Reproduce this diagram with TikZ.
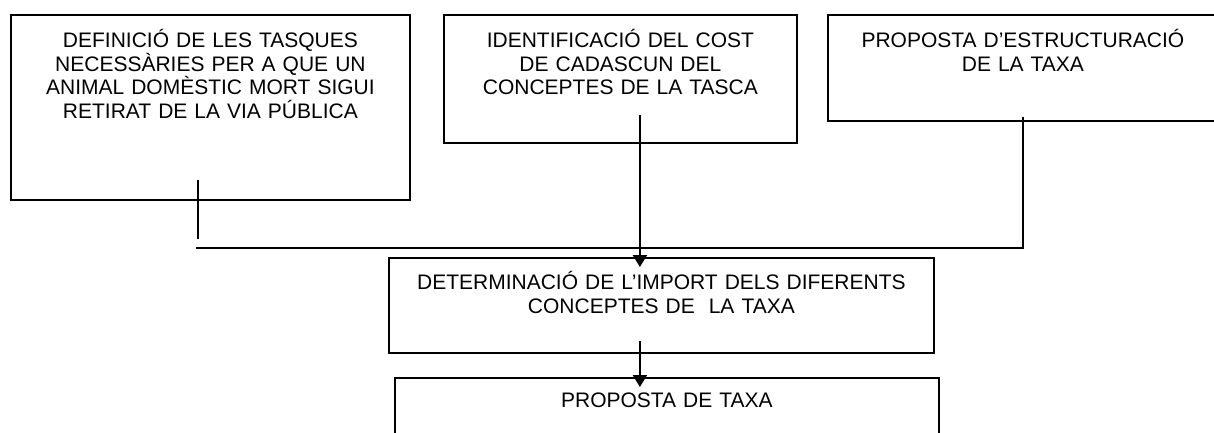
\documentclass[tikz,border=0pt]{standalone}
\usepackage{fontspec}
\setmainfont{Liberation Sans}
\usepackage{tikz}
\usetikzlibrary{
  arrows.meta
}

\begin{document}
\begin{tikzpicture}[%詳細設定
        x=0.5pt,y=-0.5pt,
        taskbox/.style={
            draw,
            line width=0.9pt,
            inner sep=0pt,
            anchor=north west,
            align=center,
            font=\fontsize{10.5pt}{11.75pt}\selectfont,
            text height=16.5pt
          },conn/.style={
            line width=0.8pt
          },arrowline/.style={
            line width=1.1pt,
            -{Triangle[length=6pt,width=7pt]}
          }
      ]
      \useasboundingbox (0,0) rectangle (1214,433);

      % 上の箱
      \node[taskbox,text width=199.5pt,text depth=76pt] (definicio) at (10,14)
        {DEFINICIÓ DE LES TASQUES\\NECESSÀRIES PER A QUE UN\\ANIMAL DOMÈSTIC MORT SIGUI\\RETIRAT DE LA VIA PÚBLICA};
      \node[taskbox,text width=176.5pt,text depth=47.5pt] (identificacio) at (443,14)
        {IDENTIFICACIÓ DEL COST\\DE CADASCUN DEL\\CONCEPTES DE LA TASCA};
      \node[taskbox,text width=195pt,text depth=36.5pt] (estructura) at (827,14)
        {PROPOSTA D’ESTRUCTURACIÓ\\DE LA TAXA};

      % 下の箱
      \node[taskbox,text width=272.5pt,text height=16pt,text depth=31.5pt] (determinacio) at (388,257)
        {DETERMINACIÓ DE L’IMPORT DELS DIFERENTS\\CONCEPTES DE~~LA TAXA};
      \node[taskbox,text width=272pt,text height=15pt,text depth=19pt] (proposta) at (394,377)
        {PROPOSTA DE TAXA};

      % 座標の定義
      \coordinate (junta) at (196,248);

      % 線
      \draw[conn] ([xshift=-6.25pt,yshift=10.5pt]definicio.south) -- ++(0pt,-29.5pt);
      \draw[conn] ([yshift=2.5pt]estructura.south) |- (junta);

      % 矢印
      \draw[arrowline] ([xshift=9.75pt,yshift=14.5pt]identificacio.south)
        -- ([xshift=9.75pt,yshift=-5pt]identificacio.south |- determinacio.north);
      \draw[arrowline] ([xshift=-10.75pt,yshift=6.5pt]determinacio.south)
        -- ([xshift=-10.75pt,yshift=-5pt]determinacio.south |- proposta.north);

    \end{tikzpicture}
\end{document}
